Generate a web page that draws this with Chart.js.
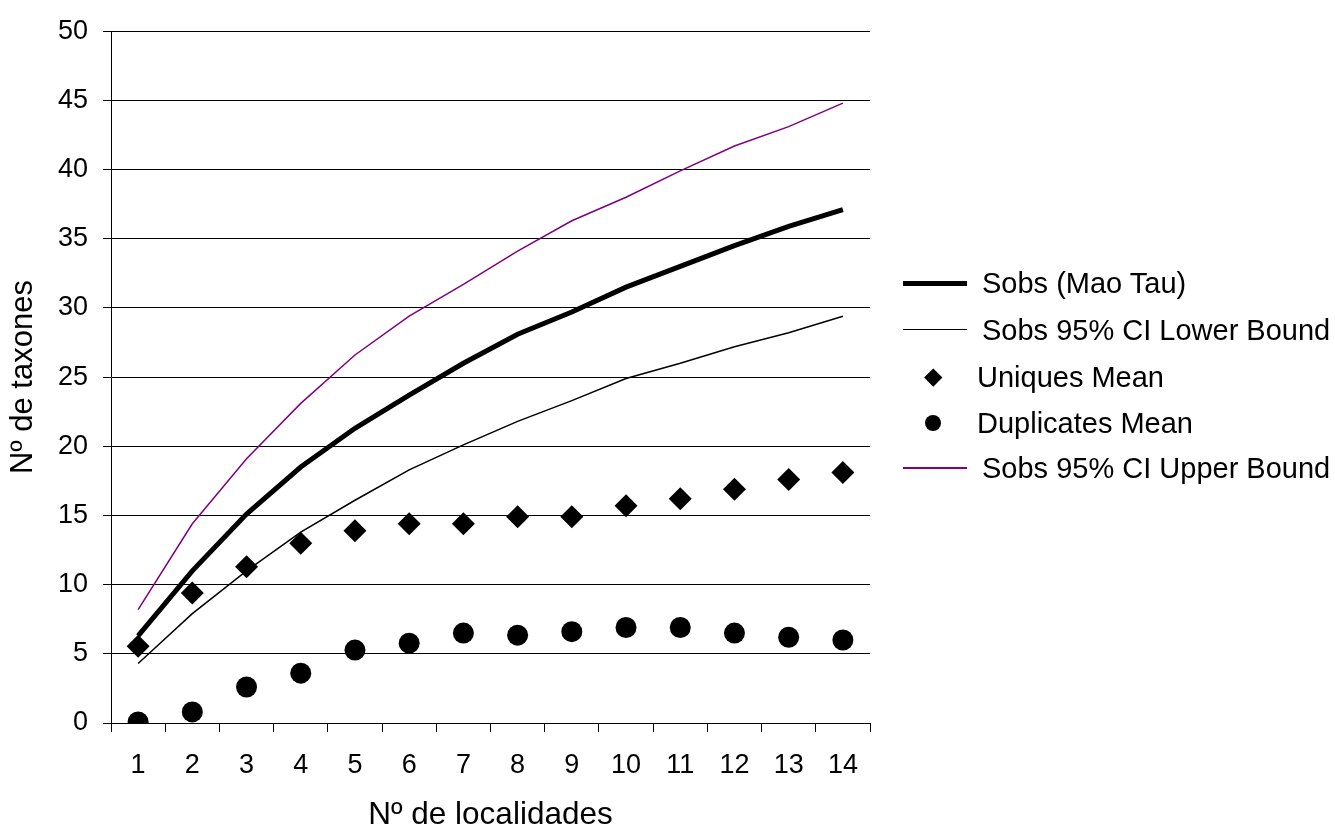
<!DOCTYPE html>
<html>
<head>
<meta charset="utf-8">
<script src="https://cdn.jsdelivr.net/npm/chart.js@4/dist/chart.umd.min.js"></script>
<style>
  html, body { margin: 0; padding: 0; background: #fff; }
  #wrap { position: relative; width: 1335px; height: 827px; }
  #c { position: absolute; left: 0; top: 0; }
  .leg { position: absolute; left: 0; top: 0; font-family: "Liberation Sans", Arial, sans-serif; font-size: 29px; color: #000; }
  .item { position: absolute; height: 0; white-space: nowrap; }
  .item .txt { position: absolute; top: -18px; line-height: 36px; }
  .item .ln { position: absolute; left: 903px; width: 64px; }
  .dia { position: absolute; left: 927px; width: 12.5px; height: 12.5px; top: -6.25px; background: #000; transform: rotate(45deg); }
  .dot { position: absolute; left: 925px; width: 16px; height: 16px; top: -8px; background: #000; border-radius: 50%; }
</style>
</head>
<body>
<div id="wrap">
  <canvas id="c" width="1335" height="827"></canvas>
  <div class="leg">
    <div class="item" style="top:283px"><div class="ln" style="border-top:5px solid #000; top:-2.5px"></div><div class="txt" style="left:982px">Sobs (Mao Tau)</div></div>
    <div class="item" style="top:330px"><div class="ln" style="border-top:1.5px solid #000; top:-0.75px"></div><div class="txt" style="left:982px">Sobs 95% CI Lower Bound</div></div>
    <div class="item" style="top:377px"><div class="dia"></div><div class="txt" style="left:977px">Uniques Mean</div></div>
    <div class="item" style="top:423px"><div class="dot"></div><div class="txt" style="left:977px">Duplicates Mean</div></div>
    <div class="item" style="top:468px"><div class="ln" style="border-top:2px solid #800080; top:-1px"></div><div class="txt" style="left:982px">Sobs 95% CI Upper Bound</div></div>
  </div>
</div>
<script>
const categories = ['1','2','3','4','5','6','7','8','9','10','11','12','13','14'];
const sobsMaoTau = [6.3, 11.0, 15.1, 18.5, 21.3, 23.7, 26.0, 28.1, 29.7, 31.5, 33.0, 34.5, 35.9, 37.1];
const lowerBound = [4.3, 7.9, 11.0, 13.8, 16.1, 18.3, 20.1, 21.8, 23.3, 24.9, 26.0, 27.2, 28.2, 29.4];
const uniquesMean = [5.55, 9.4, 11.3, 13.0, 13.9, 14.4, 14.4, 14.9, 14.9, 15.7, 16.2, 16.9, 17.6, 18.1];
const duplicatesMean = [0.07, 0.8, 2.6, 3.6, 5.27, 5.77, 6.5, 6.35, 6.6, 6.9, 6.9, 6.5, 6.2, 6.0];
const upperBound = [8.2, 14.4, 19.1, 23.1, 26.6, 29.4, 31.7, 34.1, 36.3, 38.0, 39.9, 41.7, 43.1, 44.8];
const yTicks = [0, 5, 10, 15, 20, 25, 30, 35, 40, 45, 50];

const FONT = "'Liberation Sans', Arial, sans-serif";
Chart.defaults.font.family = FONT;
Chart.defaults.color = '#000';

new Chart(document.getElementById('c'), {
  type: 'line',
  data: {
    labels: categories,
    datasets: [
      { label: 'Sobs (Mao Tau)', data: sobsMaoTau, borderColor: '#000', borderWidth: 5, pointRadius: 0, tension: 0, fill: false, order: 3 },
      { label: 'Sobs 95% CI Lower Bound', data: lowerBound, borderColor: '#000', borderWidth: 1.5, pointRadius: 0, tension: 0, fill: false, order: 4 },
      { label: 'Uniques Mean', data: uniquesMean, showLine: false, pointStyle: 'rectRot', pointRadius: 11.5, pointBackgroundColor: '#000', pointBorderColor: '#000', pointBorderWidth: 0, order: 1 },
      { label: 'Duplicates Mean', data: duplicatesMean, showLine: false, pointStyle: 'circle', pointRadius: 10.5, pointBackgroundColor: '#000', pointBorderColor: '#000', pointBorderWidth: 0, order: 2 },
      { label: 'Sobs 95% CI Upper Bound', data: upperBound, borderColor: '#800080', borderWidth: 1.5, pointRadius: 0, tension: 0, fill: false, order: 5 }
    ]
  },
  options: {
    responsive: false,
    animation: false,
    devicePixelRatio: 1,
    layout: { padding: { left: 0, top: 30, right: 465, bottom: 0 } },
    plugins: { legend: { display: false }, tooltip: { enabled: false } },
    scales: {
      x: {
        type: 'category',
        offset: true,
        grid: { offset: true, drawOnChartArea: false, drawTicks: true, tickLength: 9, color: '#000', lineWidth: 1 },
        border: { display: true, color: '#000', width: 1 },
        ticks: { font: { size: 27 }, color: '#000', padding: 17, maxRotation: 0, autoSkip: false },
        title: { display: true, text: 'Nº de localidades', font: { size: 31.5, lineHeight: 0.75 }, color: '#000', padding: { top: 0, bottom: 0 } },
        afterFit(scale) { scale.height = 104; }
      },
      y: {
        min: 0, max: 50,
        afterBuildTicks(scale) { scale.ticks = yTicks.map(v => ({ value: v })); },
        grid: { drawTicks: true, tickLength: 8, color: '#000', lineWidth: 1 },
        border: { display: true, color: '#000', width: 1 },
        ticks: { font: { size: 27 }, color: '#000', padding: 15 },
        title: { display: true, text: 'Nº de taxones', font: { size: 31, lineHeight: 1.0 }, color: '#000', padding: { top: 8, bottom: 0 } },
        afterFit(scale) { scale.width = 111; }
      }
    }
  }
});
</script>
</body>
</html>
